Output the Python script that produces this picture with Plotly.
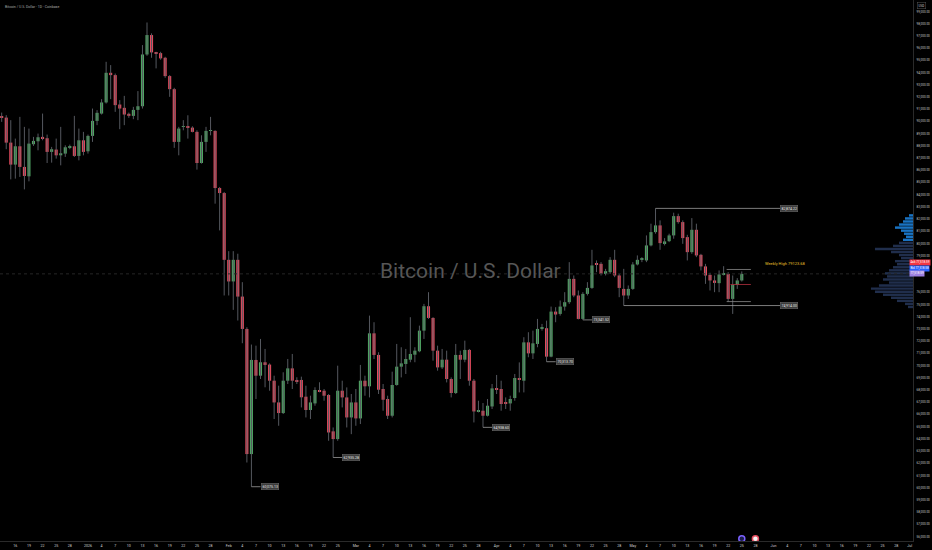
import pandas as pd
import plotly.graph_objects as go

# --- Data (daily BTC/USD candles) ---
START_DATE = "2025-12-13"
opens = [90400, 90310, 88260, 86460, 87960, 86270, 85500, 88130, 88370, 88730,
         88620, 87500, 87690, 87220, 87360, 87850, 87960, 87170, 88450,
         87550, 88810, 90040, 90640, 91550, 93980, 93790, 91380, 91110, 90620,
         90450, 90940, 91240, 95480, 97070, 95650, 95590, 95210, 93710, 92640,
         88320, 89550, 89550, 89490, 89140, 86590, 88320, 89220, 89220, 84540,
         84130,
         78660, 76890, 78660, 75650, 73000, 62750, 70460, 69170, 70270, 70080,
         68760, 66980, 66110, 68760, 69770, 68820, 68820, 67450, 66360, 66900,
         68000, 67940, 67590, 64610, 63980, 67940, 67390, 65750,
         66980, 65670, 68760, 68300, 72640, 70870, 68080, 67260, 65890, 68410,
         69910, 70130, 70480, 70890, 71170, 72860, 74860, 73900, 71220, 69850,
         70480, 68900, 67750, 70870, 70480, 71280, 68760, 66220, 66300, 65890,
         66650,
         68130, 68080, 66980, 66900, 67340, 68980, 68760, 71900, 71000, 71770,
         73060, 73060, 70730, 74420, 74230, 74830, 75190, 77100, 75740, 73820,
         75870, 76360, 78330, 78330, 77510, 77650, 78660, 77380, 76280, 75740,
         76280, 78280, 78660, 78610, 79840, 80930, 81480, 80030, 80190, 80660,
         82240, 81750, 80520, 79290, 81120, 79070, 78120, 77430, 76970, 76750,
         77460, 77510, 75460, 76610, 76970]
highs = [90720, 90510, 90100, 88590, 90370, 89550, 89410, 88730, 89000, 90640,
         88920, 87910, 88590, 89550, 88040, 88100, 90450, 89410, 89140,
         88920, 91050, 90920, 91820, 94880, 94610, 93920, 91740, 92090, 90720,
         91190, 92480, 96250, 98100, 97210, 95700, 95700, 95290, 93790, 92750,
         89550, 90100, 90500, 89600, 89270, 88860, 89550, 90370, 89270, 84630,
         84220,
         79370, 79370, 79160, 76830, 73140, 71720, 71630, 72180, 71360, 70180,
         69170, 68350, 69450, 70540, 70950, 69040, 69090, 68350, 67530, 68220,
         68630, 68080, 67670, 64930, 69990, 68760, 68210, 67670,
         68080, 70050, 69170, 74090, 73550, 71090, 68490, 67530, 69500, 71770,
         71500, 71360, 73960, 71500, 73270, 75050, 76010, 73960, 71630, 71360,
         71220, 69030, 71770, 71220, 72040, 71360, 68900, 67120, 66930, 67260,
         68490,
         69230, 68760, 67390, 67530, 69310, 70260, 72320, 72730, 72860, 73820,
         73410, 73680, 74830, 74780, 75330, 76010, 78470, 77380, 76150, 76010,
         76830, 79480, 78610, 78470, 77920, 78880, 79480, 77510, 77920, 76560,
         78470, 79020, 78880, 80660, 81620, 82874.22, 81890, 80440, 80800, 82520,
         82440, 81890, 80710, 82080, 81620, 79150, 78330, 77600, 77380, 77790,
         78140, 77650, 77380, 77160, 77710]
lows = [89960, 87720, 85250, 85310, 85450, 84430, 85090, 87990, 87630, 88450,
        86590, 86620, 86950, 86400, 87090, 87720, 87090, 86810, 87220,
        87360, 88320, 89690, 90560, 91460, 91820, 90780, 89360, 89690, 90290,
        90180, 90100, 91050, 95370, 95210, 94340, 95050, 93570, 92010, 87830,
        87220, 89270, 88590, 89100, 86050, 86540, 87500, 88860, 83260, 81070,
        75740,
        75740, 74560, 73690, 71830, 62060, 60075.13, 67260, 68900, 68220, 67940,
        65620, 65070, 66030, 68490, 68080, 68490, 66570, 65750, 65620, 66710,
        67810, 67120, 63840, 62470, 63840, 66570, 64930, 64380,
        65070, 65210, 67530, 67390, 70540, 67670, 66300, 65620, 65750, 68350,
        69030, 69310, 70270, 70270, 71090, 72180, 73820, 70400, 69580, 69720,
        68620, 67390, 67670, 68900, 70270, 68350, 65340, 66160, 64938.60, 65830,
        66440,
        67670, 66300, 66440, 66300, 67120, 67800, 67800, 70680, 70540, 71500,
        72860, 70313.70, 70680, 73550, 74090, 74500, 75050, 75600, 73780, 73740,
        75740, 76280, 77650, 77380, 77380, 77510, 77240, 75600, 74914.00, 75460,
        76200, 78200, 78470, 78470, 79760, 80800, 79480, 79840, 80110, 80390,
        81620, 79970, 78610, 79150, 78880, 77790, 76690, 76150, 76010, 76010,
        77380, 75240, 74230, 76280, 76880]
closes = [90290, 88260, 86460, 87960, 86270, 85530, 88180, 88400, 88700, 88590,
          87500, 87720, 87220, 87390, 87880, 87960, 87170, 88450, 87500,
          88810, 90040, 90700, 91550, 93980, 93790, 91330, 91050, 90560, 90450,
          90940, 91240, 95480, 97070, 95650, 95540, 95160, 93710, 92640, 88320,
          89410, 89600, 89490, 89140, 86590, 88320, 89220, 89270, 84540, 84130,
          78660,
          76890, 78660, 75650, 73000, 62750, 70460, 69170, 70270, 70050, 68760,
          66980, 66110, 68760, 69770, 68760, 68710, 67400, 66360, 66980, 68000,
          67890, 67530, 64520, 63980, 67940, 67390, 65750, 66980,
          65670, 68760, 68300, 72640, 70870, 68020, 67200, 65890, 68410, 69910,
          70180, 70540, 70950, 71220, 72860, 74860, 73900, 71220, 69850, 70480,
          68900, 67750, 70870, 70480, 71280, 68760, 66240, 66300, 65890, 66710,
          68130,
          68020, 66850, 66930, 67260, 68980, 68820, 71900, 71000, 71820, 73000,
          73110, 70730, 74420, 74180, 74830, 75190, 77100, 75740, 73820, 75870,
          76360, 78200, 78280, 77510, 77730, 78660, 77380, 76360, 75740, 76280,
          78280, 78660, 78720, 79840, 80930, 81480, 80030, 80170, 80660, 82240,
          81750, 80440, 79290, 81120, 79020, 78120, 77380, 76970, 76770, 77460,
          77510, 75460, 76610, 76970, 77510]

# swing labels (date of candle, printed text)
swing_dates = ["2026-02-06", "2026-02-24", "2026-03-29", "2026-04-12", "2026-04-20"]
swing_texts = ["60,075.13", "62,935.28", "64,938.60", "70,313.70", "73,341.52"]

# horizontal levels (start candle, price, label)
level_starts = ["2026-05-06", "2026-04-29"]
level_prices = [82874.22, 74914.00]
level_texts = ["82,874.22", "74,914.00"]
LEVEL_END = "2026-06-02 10:00"

# weekly box + weekly high text
weekly_box_x = ["2026-05-21 16:00", "2026-05-27"]
weekly_box_top, weekly_box_bottom, weekly_open = 77870, 75240, 76640
WEEKLY_HIGH_TEXT = "Weekly High 79123.68"

# visible range volume profile (right edge)
profile_prices = [82300, 82050, 81800, 81550, 81300, 81050, 80800, 80550, 80300, 80050,
                  79800, 79550, 79300, 79050, 78800, 78550, 78300, 78050, 77800, 77550,
                  77300, 77050, 76800, 76550, 76300, 76050, 75800, 75550, 75300, 75050, 74800]
profile_volumes = [4, 8, 10, 14, 18, 12, 9, 7, 10, 14,
                   20, 38, 22, 14, 12, 18, 16, 20, 24, 28,
                   26, 30, 24, 34, 42, 38, 30, 22, 16, 8, 5]

event_dates = ["2026-05-25", "2026-05-28"]

# price scale tags (text, background)
tag_texts = ["Ask 77,518.59", "Bid 77,518.58", "77,518.59"]
tag_colors = ["#f23645", "#2962ff", "#9c7fe0"]

# price scale labels (the ones under the tags are hidden, as on the chart)
y_ticks = [p for p in range(56000, 100000, 1000) if p not in (77000, 78000)]

# --- Style ---
UP, DOWN, WICK = "#4fa563", "#e44b5e", "#55585f"
TXT = "#c8c8c8"
FONT = "Roboto"

dates = pd.date_range(START_DATE, periods=len(opens), freq="D")
day_ms = 86400000

fig = go.Figure()

# wicks
wx, wy = [], []
for d, h, l in zip(dates, highs, lows):
    wx += [d, d, None]; wy += [l, h, None]
fig.add_trace(go.Scatter(x=wx, y=wy, mode="lines", line=dict(color=WICK, width=1), hoverinfo="skip"))

# bodies
bases = [min(o, c) for o, c in zip(opens, closes)]
heights = [max(abs(c - o), 70) for o, c in zip(opens, closes)]
colors = [UP if c >= o else DOWN for o, c in zip(opens, closes)]
fig.add_trace(go.Bar(x=dates, y=heights, base=bases, width=0.68 * day_ms,
                     marker=dict(color=colors, line=dict(width=0)), hoverinfo="skip"))

# volume profile
prof_colors = ["#1e88e5" if p >= 80300 else "#26375a" for p in profile_prices]
fig.add_trace(go.Bar(y=profile_prices, x=profile_volumes, orientation="h", xaxis="x2",
                     width=200, marker=dict(color=prof_colors, line=dict(width=0)), opacity=0.85,
                     hoverinfo="skip"))

# event icons at the bottom
fig.add_trace(go.Scatter(x=pd.to_datetime(event_dates), y=[55820, 55820], mode="markers",
                         marker=dict(size=6, color=["#1c1f4a", "#f3f3f3"],
                                     line=dict(color=["#7b61ff", "#e44b5e"], width=1.5)),
                         hoverinfo="skip"))

# last price line
last = closes[-1]
fig.add_hline(y=last, line=dict(color="#262626", width=1, dash="dot"))

# swing labels
for d, txt in zip(swing_dates, swing_texts):
    ts = pd.Timestamp(d)
    low = lows[dates.get_loc(ts)]
    x1 = ts + pd.Timedelta(days=2)
    fig.add_shape(type="line", x0=ts, x1=x1, y0=low, y1=low, line=dict(color="#9a9a9a", width=0.8))
    fig.add_annotation(x=x1, y=low, text=txt, showarrow=False, xanchor="left",
                       font=dict(size=3.5, color="#e6e6e6", family=FONT),
                       bgcolor="#3d3d3d", bordercolor="#6e6e6e", borderwidth=0.5, borderpad=1)

# level lines
for d, p, txt in zip(level_starts, level_prices, level_texts):
    fig.add_shape(type="line", x0=d, x1=LEVEL_END, y0=p, y1=p, line=dict(color="#9a9a9a", width=0.8))
    fig.add_annotation(x=LEVEL_END, y=p, text=txt, showarrow=False, xanchor="left",
                       font=dict(size=3.5, color="#e6e6e6", family=FONT),
                       bgcolor="#3d3d3d", bordercolor="#6e6e6e", borderwidth=0.5, borderpad=1)

# weekly box
fig.add_shape(type="line", x0=weekly_box_x[0], x1=weekly_box_x[1], y0=weekly_box_top, y1=weekly_box_top,
              line=dict(color="#8a8a8a", width=0.8))
fig.add_shape(type="line", x0=weekly_box_x[0], x1=weekly_box_x[1], y0=weekly_box_bottom, y1=weekly_box_bottom,
              line=dict(color="#8a8a8a", width=0.8))
fig.add_shape(type="line", x0="2026-05-22 12:00", x1=weekly_box_x[1], y0=weekly_open, y1=weekly_open,
              line=dict(color="#b3303f", width=0.8))
fig.add_annotation(x="2026-05-29 14:00", y=weekly_box_top + 500, text=WEEKLY_HIGH_TEXT, showarrow=False,
                   xanchor="left", font=dict(size=4, color="#e8c22c", family=FONT))

# watermark + header
fig.add_annotation(xref="paper", yref="paper", x=0.515, y=0.5, text="Bitcoin / U.S. Dollar",
                   showarrow=False, font=dict(size=21, color="#565656", family=FONT))
fig.add_annotation(xref="paper", yref="paper", x=0.003, y=0.995, xanchor="left", yanchor="top",
                   text="Bitcoin / U.S. Dollar · 1D · Coinbase", showarrow=False,
                   font=dict(size=3.5, color="#a8a8a8", family=FONT))
fig.add_annotation(xref="paper", yref="paper", x=1.004, y=0.997, xanchor="left", yanchor="top",
                   text="USD", showarrow=False, font=dict(size=3, color=TXT, family=FONT),
                   bordercolor="#555555", borderwidth=0.5, borderpad=1)

# price tags on the scale, stacked around the last price
for i, (txt, bg) in enumerate(zip(tag_texts, tag_colors)):
    fig.add_annotation(xref="paper", yref="y", x=0.996, y=last, yshift=11 - 5.5 * i, text=txt,
                       showarrow=False, xanchor="left", font=dict(size=3, color="#ffffff", family=FONT),
                       bgcolor=bg, borderpad=0.4)

# x ticks: TradingView style, every 3 days with month names
tick_months = [("2025-12", [13, 16, 19, 22, 25, 28]), ("2026-01", [1, 4, 7, 10, 13, 16, 19, 22, 25, 28]),
               ("2026-02", [1, 4, 7, 10, 13, 16, 19, 22, 25]), ("2026-03", [1, 4, 7, 10, 13, 16, 19, 22, 25, 28]),
               ("2026-04", [1, 4, 7, 10, 13, 16, 19, 22, 25, 28]), ("2026-05", [1, 4, 7, 10, 13, 16, 19, 22, 25, 28]),
               ("2026-06", [1, 4, 7, 10, 13, 16, 19, 22, 25, 28]), ("2026-07", [1])]
tickvals, ticktext = [], []
for ym, days in tick_months:
    for dd in days:
        ts = pd.Timestamp(f"{ym}-{dd:02d}")
        tickvals.append(ts)
        if dd == 1:
            ticktext.append("2026" if ts.month == 1 else ts.strftime("%b"))
        else:
            ticktext.append(str(dd))

fig.update_layout(
    width=932, height=550,
    margin=dict(l=0, r=19, t=0, b=9),
    paper_bgcolor="#000000", plot_bgcolor="#000000",
    showlegend=False, barmode="overlay", hovermode=False,
    font=dict(family=FONT, color=TXT),
    xaxis=dict(type="date", range=["2025-12-12 15:00", "2026-07-01 17:00"],
               tickvals=tickvals, ticktext=ticktext, tickfont=dict(size=3.6, color="#d0d0d0"),
               showgrid=False, zeroline=False, showline=True, linecolor="#2a2a2a", linewidth=1,
               ticks="", ticklabelstandoff=1),
    xaxis2=dict(overlaying="x", anchor="y", range=[912, 0], visible=False),
    yaxis=dict(side="right", range=[55630, 99942], tickvals=y_ticks, tickformat=",.2f",
               tickfont=dict(size=3, color=TXT), showgrid=False, zeroline=False,
               showline=True, linecolor="#2a2a2a", linewidth=1, ticks="", ticklabelstandoff=2),
)

fig.write_html("out.html", config={"displayModeBar": False},
               post_script="document.body.style.margin='0';document.body.style.background='#000';")
